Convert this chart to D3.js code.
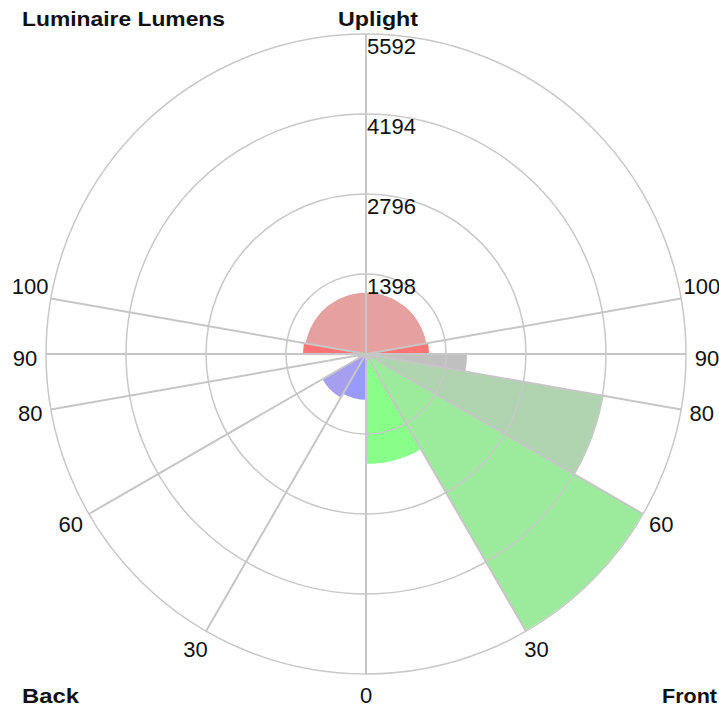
<!DOCTYPE html>
<html>
<head>
<meta charset="utf-8">
<script src="https://cdn.jsdelivr.net/npm/d3@7/dist/d3.min.js"></script>
<style>
  html, body { margin: 0; padding: 0; background: #ffffff; }
  svg { display: block; }
  text { font-family: "Liberation Sans", Arial, sans-serif; fill: #111; }
</style>
</head>
<body>
<svg id="chart" width="719" height="712"></svg>
<script>
// ---- data ----
const zoneNames  = ["Low", "Medium", "High", "Very High", "Uplight Low", "Uplight High"];
const zoneStart  = [0, 30, 60, 80, 90, 100];     // degrees from nadir
const zoneEnd    = [30, 60, 80, 90, 100, 180];
const frontLumens = [1920, 5580, 4215, 1765, 1100, 1070];
const backLumens  = [800, 880, 150, 100, 1100, 1070];
const ringValues  = [1398, 2796, 4194, 5592];
const spokeAngles = [0, 30, 60, 80, 90, 100, 180];
const angleLabels = [0, 30, 60, 80, 90, 100];
const frontColors = ["#88ff88", "#9ceb9c", "#b0d4b0", "#c0c0c0", "#ff7474", "#e6a0a0"];
const backColors  = ["#9999ff", "#a69fef", "#b4b4dc", "#c0c0c0", "#ff7474", "#e6a0a0"];

// ---- layout ----
const cx = 366, cy = 354, R = 320;
const svg = d3.select("#chart");
const g = svg.append("g").attr("transform", `translate(${cx},${cy})`);
const r = d3.scaleLinear().domain([0, d3.max(ringValues)]).range([0, R]);
const rad = d => d * Math.PI / 180;
const arc = d3.arc().innerRadius(0);

// wedges: front side (right) and back side (left)
const wedges = [];
zoneStart.forEach((s, i) => {
  wedges.push({ side: "front", s, e: zoneEnd[i], v: frontLumens[i], c: frontColors[i] });
  wedges.push({ side: "back",  s, e: zoneEnd[i], v: backLumens[i],  c: backColors[i] });
});
g.selectAll("path.wedge").data(wedges).join("path")
  .attr("class", "wedge")
  .attr("fill", d => d.c)
  .attr("d", d => {
    const a = d.side === "front"
      ? { startAngle: Math.PI - rad(d.e), endAngle: Math.PI - rad(d.s) }
      : { startAngle: Math.PI + rad(d.s), endAngle: Math.PI + rad(d.e) };
    return arc({ ...a, outerRadius: r(d.v) });
  });

// rings
g.selectAll("circle.ring").data(ringValues).join("circle")
  .attr("class", "ring")
  .attr("r", d => r(d))
  .attr("fill", "none")
  .attr("stroke", "#c8c8c8")
  .attr("stroke-width", 1.5);

// spokes, both sides
const spokes = [];
spokeAngles.forEach(a => { spokes.push({ a, s: 1 }); spokes.push({ a, s: -1 }); });
g.selectAll("line.spoke").data(spokes).join("line")
  .attr("class", "spoke")
  .attr("x1", 0).attr("y1", 0)
  .attr("x2", d => d.s * R * Math.sin(rad(d.a)))
  .attr("y2", d => R * Math.cos(rad(d.a)))
  .attr("stroke", "#c6c6c6")
  .attr("stroke-width", 2);

// ring value labels
g.selectAll("text.ringlbl").data(ringValues).join("text")
  .attr("class", "ringlbl")
  .attr("x", 1)
  .attr("y", d => -r(d) + 20)
  .attr("font-size", 22)
  .text(d => d);

// angle labels
const LR = 341;
const adj = a => (a === 100 ? -8 : a === 90 ? 4 : 0);
const albl = [];
angleLabels.forEach(a => {
  albl.push({ a, s: 1 });
  if (a !== 0) albl.push({ a, s: -1 });
});
g.selectAll("text.anglbl").data(albl).join("text")
  .attr("class", "anglbl")
  .attr("x", d => d.s * LR * Math.sin(rad(d.a)))
  .attr("y", d => LR * Math.cos(rad(d.a)) + adj(d.a))
  .attr("text-anchor", "middle")
  .attr("dominant-baseline", "central")
  .attr("font-size", 22)
  .text(d => d.a);

// titles
const titles = [
  { t: "Luminaire Lumens", x: 22, y: 26, w: 203 },
  { t: "Uplight", x: 338, y: 26, w: 80 },
  { t: "Back", x: 22, y: 703, w: 57 },
  { t: "Front", x: 662, y: 703, w: 55 }
];
svg.selectAll("text.title").data(titles).join("text")
  .attr("class", "title")
  .attr("x", d => d.x).attr("y", d => d.y)
  .attr("font-size", 21)
  .attr("font-weight", "bold")
  .attr("textLength", d => d.w)
  .attr("lengthAdjust", "spacingAndGlyphs")
  .text(d => d.t);
</script>
</body>
</html>
